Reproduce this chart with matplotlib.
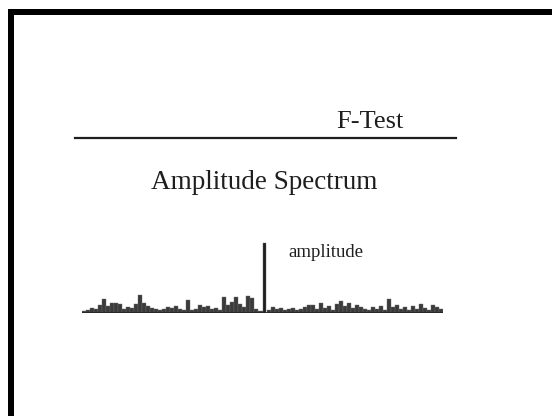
import matplotlib.pyplot as plt
from matplotlib.patches import Rectangle
from matplotlib.lines import Line2D
import numpy as np

# slide text
title = "F-Test"
subtitle = "Amplitude Spectrum"
peak_label = "amplitude"

# amplitude spectrum (bin heights, arbitrary units)
amplitudes = [2, 3, 5, 4, 8, 14, 7, 10, 10, 9, 4, 6, 5, 9, 18, 10, 7, 5, 4, 3,
              4, 6, 5, 7, 4, 3, 13, 3, 4, 8, 6, 7, 4, 5, 3, 16, 8, 11, 16, 9,
              6, 17, 15, 4, 2, 70, 3, 6, 4, 5, 3, 4, 5, 3, 4, 6, 8, 8, 4, 10,
              5, 7, 3, 9, 12, 7, 10, 5, 8, 6, 4, 3, 6, 4, 7, 3, 14, 6, 8, 4,
              6, 3, 7, 4, 9, 5, 3, 8, 6, 4]
peak_bin = 45

W, H = 552, 416
fig = plt.figure(figsize=(W / 100, H / 100), dpi=100)
fig.patch.set_facecolor("white")

serif = ["Liberation Serif", "DejaVu Serif"]
ink = "#1e1e1e"

# black frame on top and left edge of the scanned slide
fig.add_artist(Rectangle((8 / W, 1 - 15 / H), 1 - 8 / W, 6 / H,
                         transform=fig.transFigure, color="black", lw=0))
fig.add_artist(Rectangle((8 / W, 0), 6 / W, 1 - 9 / H,
                         transform=fig.transFigure, color="black", lw=0))

# heading and rule
fig.text(370 / W, 1 - 128 / H, title, family=serif, fontsize=19, color=ink,
         ha="center", va="baseline")
fig.add_artist(Line2D([75 / W, 456 / W], [1 - 138 / H] * 2,
                      transform=fig.transFigure, color=ink, lw=1.6))
fig.text(264 / W, 1 - 189 / H, subtitle, family=serif, fontsize=19.5,
         color=ink, ha="center", va="baseline")

# spectrum
x0, x1, base, top = 82, 443, 313, 238
ax = fig.add_axes([x0 / W, 1 - base / H, (x1 - x0) / W, (base - top) / H])
xs = np.arange(len(amplitudes))
widths = [0.6 if i == peak_bin else 1.0 for i in xs]
colors = [ink if i == peak_bin else "#3a3a3a" for i in xs]
ax.bar(xs, amplitudes, width=widths, color=colors, edgecolor="#6a6a6a",
       linewidth=0.3)
ax.axhline(0, color=ink, lw=1.8)
ax.set_xlim(-0.5, len(amplitudes) - 0.5)
ax.set_ylim(0, 75)
ax.axis("off")

fig.text(288 / W, 1 - 257 / H, peak_label, family=serif, fontsize=13.5,
         color=ink, ha="left", va="baseline")

fig.savefig("out.png", dpi=100)
